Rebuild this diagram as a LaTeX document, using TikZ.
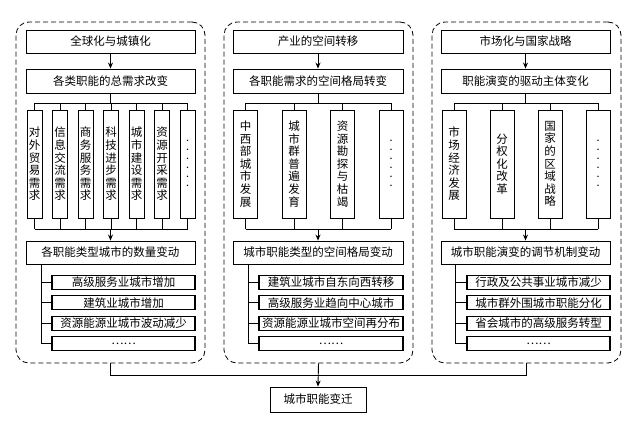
\documentclass[tikz,border=0pt]{standalone}
\usepackage{fontspec}
\newfontfamily\cjk{Noto Sans CJK SC}
\usetikzlibrary{arrows.meta}
\begin{document}
\begin{tikzpicture}[x=1pt,y=-1pt, font=\cjk\fontsize{11.5}{12.6}\selectfont,
 box/.style={draw, line width=0.9pt, inner sep=0pt, minimum height=23pt},
 vbox/.style={draw, line width=0.9pt, inner sep=0pt, align=center, minimum height=108pt},
 sbox/.style={draw, line width=1.05pt, inner sep=0pt, minimum height=14pt},
 panel/.style={draw, line width=0.8pt, dash pattern=on 5pt off 3pt, rounded corners=13pt, minimum width=189pt, minimum height=341pt},
 ln/.style={line width=0.9pt},
 arr/.style={line width=0.9pt, -{Stealth[length=6pt,width=5pt]}},
 vdots/.style={font=\cjk\fontsize{7}{9}\selectfont}]
\useasboundingbox (0,0) rectangle (640,426);

% ---------------- Panel 1 ----------------
\node[panel] (p1) at (110.5,192.5) {};
\node[box, minimum width=169pt] (a1) at (110.5,41.5) {全球化与城镇化};
\node[box, minimum width=169pt, minimum height=24pt] (b1) at (110.5,81) {各类职能的总需求改变};
\node[vbox, minimum width=15pt] (v11) at (34.5,164) {对\\外\\贸\\易\\需\\求};
\node[vbox, minimum width=15pt] (v12) at (60,164) {信\\息\\交\\流\\需\\求};
\node[vbox, minimum width=15pt] (v13) at (85.5,164) {商\\务\\服\\务\\需\\求};
\node[vbox, minimum width=15pt] (v14) at (111,164) {科\\技\\进\\步\\需\\求};
\node[vbox, minimum width=15pt] (v15) at (136.5,164) {城\\市\\建\\设\\需\\求};
\node[vbox, minimum width=15pt] (v16) at (162,164) {资\\源\\开\\采\\需\\求};
\node[vbox, vdots, minimum width=15pt] (v17) at (187.5,164) {·\\·\\·\\·\\·\\·};
\node[box, minimum width=169pt] (c1) at (110.5,252.5) {各职能类型城市的数量变动};
\node[sbox, minimum width=143pt] (s11) at (123.5,282.5) {高级服务业城市增加};
\node[sbox, minimum width=143pt] (s12) at (123.5,302.8) {建筑业城市增加};
\node[sbox, minimum width=143pt] (s13) at (123.5,323.1) {资源能源业城市波动减少};
\node[sbox, minimum width=143pt] (s14) at (123.5,343.4) {……};
\draw[arr] (a1.south) -- (b1.north);
\coordinate (u1) at (110.5,103);
\coordinate (d1) at (110.5,229);
\draw[ln] (b1.south) -- (u1);
\draw[ln] (v11.north |- u1) -- (v17.north |- u1);
\draw[ln] (v11.south |- d1) -- (v17.south |- d1);
\foreach \i in {1,...,7}{
  \draw[ln] (v1\i.north |- u1) -- (v1\i.north);
  \draw[ln] (v1\i.south) -- (v1\i.south |- d1);
}
\draw[arr] (d1) -- (c1.north);
\coordinate (k1) at (41,264);
\draw[ln] (k1) |- (s14.west);
\foreach \i in {1,2,3}{ \draw[ln] (k1 |- s1\i.west) -- (s1\i.west); }

% ---------------- Panel 2 ----------------
\node[panel] (p2) at (318.5,192.5) {};
\node[box, minimum width=170pt] (a2) at (318,41.5) {产业的空间转移};
\node[box, minimum width=170pt, minimum height=24pt] (b2) at (318,81) {各职能需求的空间格局转变};
\node[vbox, minimum width=24pt] (v21) at (245.5,164) {中\\西\\部\\城\\市\\发\\展};
\node[vbox, minimum width=24pt] (v22) at (294,164) {城\\市\\群\\普\\遍\\发\\育};
\node[vbox, minimum width=24pt] (v23) at (342.5,164) {资\\源\\勘\\探\\与\\枯\\竭};
\node[vbox, vdots, minimum width=24pt] (v24) at (391,164) {·\\·\\·\\·\\·\\·};
\node[box, minimum width=170pt] (c2) at (318,252.5) {城市职能类型的空间格局变动};
\node[sbox, minimum width=144pt] (s21) at (331,282.5) {建筑业城市自东向西转移};
\node[sbox, minimum width=144pt] (s22) at (331,302.8) {高级服务业趋向中心城市};
\node[sbox, minimum width=144pt] (s23) at (331,323.1) {资源能源业城市空间再分布};
\node[sbox, minimum width=144pt] (s24) at (331,343.4) {……};
\draw[arr] (a2.south) -- (b2.north);
\coordinate (u2) at (318,103);
\coordinate (d2) at (318,229);
\draw[ln] (b2.south) -- (u2);
\draw[ln] (v21.north |- u2) -- (v24.north |- u2);
\draw[ln] (v21.south |- d2) -- (v24.south |- d2);
\foreach \i in {1,...,4}{
  \draw[ln] (v2\i.north |- u2) -- (v2\i.north);
  \draw[ln] (v2\i.south) -- (v2\i.south |- d2);
}
\draw[arr] (d2) -- (c2.north);
\coordinate (k2) at (248,264);
\draw[ln] (k2) |- (s24.west);
\foreach \i in {1,2,3}{ \draw[ln] (k2 |- s2\i.west) -- (s2\i.west); }

% ---------------- Panel 3 ----------------
\node[panel] (p3) at (526.5,192.5) {};
\node[box, minimum width=169pt] (a3) at (525.5,41.5) {市场化与国家战略};
\node[box, minimum width=169pt, minimum height=24pt] (b3) at (525.5,81) {职能演变的驱动主体变化};
\node[vbox, minimum width=24pt] (v31) at (454,164) {市\\场\\经\\济\\发\\展};
\node[vbox, minimum width=24pt] (v32) at (502,164) {分\\权\\化\\改\\革};
\node[vbox, minimum width=24pt] (v33) at (550,164) {国\\家\\的\\区\\域\\战\\略};
\node[vbox, vdots, minimum width=24pt] (v34) at (598,164) {·\\·\\·\\·\\·\\·};
\node[box, minimum width=169pt] (c3) at (525.5,252.5) {城市职能演变的调节机制变动};
\node[sbox, minimum width=143pt] (s31) at (538.5,282.5) {行政及公共事业城市减少};
\node[sbox, minimum width=143pt] (s32) at (538.5,302.8) {城市群外围城市职能分化};
\node[sbox, minimum width=143pt] (s33) at (538.5,323.1) {省会城市的高级服务转型};
\node[sbox, minimum width=143pt] (s34) at (538.5,343.4) {……};
\draw[arr] (a3.south) -- (b3.north);
\coordinate (u3) at (525.5,103);
\coordinate (d3) at (525.5,229);
\draw[ln] (b3.south) -- (u3);
\draw[ln] (v31.north |- u3) -- (v34.north |- u3);
\draw[ln] (v31.south |- d3) -- (v34.south |- d3);
\foreach \i in {1,...,4}{
  \draw[ln] (v3\i.north |- u3) -- (v3\i.north);
  \draw[ln] (v3\i.south) -- (v3\i.south |- d3);
}
\draw[arr] (d3) -- (c3.north);
\coordinate (k3) at (455,264);
\draw[ln] (k3) |- (s34.west);
\foreach \i in {1,2,3}{ \draw[ln] (k3 |- s3\i.west) -- (s3\i.west); }

% ---------------- Bottom ----------------
\node[box, minimum width=96pt, minimum height=25pt] (f) at (318,399.5) {城市职能变迁};
\coordinate (j) at (318,375);
\draw[ln] (p1.south) -- (p1.south |- j) -- (p3.south |- j) -- (p3.south);
\draw[arr] (p2.south) -- (f.north);
\end{tikzpicture}
\end{document}
